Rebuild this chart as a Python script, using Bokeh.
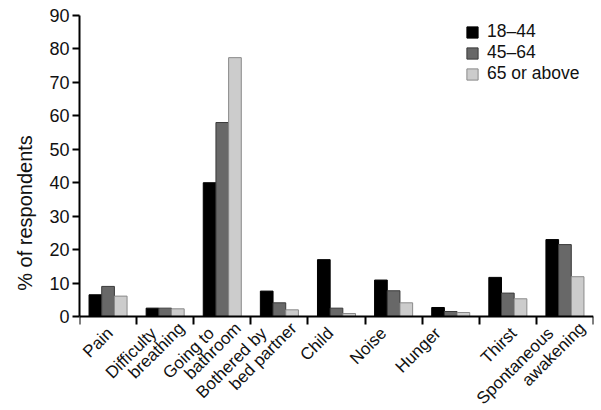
import math
from bokeh.plotting import figure
from bokeh.models import (ColumnDataSource, FixedTicker, Legend, LegendItem, Range1d, Title,
                          LinearAxis)
from bokeh.embed import file_html
from bokeh.resources import INLINE

categories = ["Pain", "Difficulty\nbreathing", "Going to\nbathroom", "Bothered by\nbed partner",
              "Child", "Noise", "Hunger", "Thirst", "Spontaneous\nawakening"]
groups = ["18\u201344", "45\u201364", "65 or above"]
age_18_44 = [6.5, 2.5, 40.0, 7.6, 17.0, 10.9, 2.7, 11.7, 23.0]
age_45_64 = [9.0, 2.5, 58.0, 4.1, 2.5, 7.7, 1.5, 7.0, 21.5]
age_65_up = [6.1, 2.3, 77.4, 2.0, 0.9, 4.1, 1.2, 5.3, 11.9]
y_ticks = [0, 10, 20, 30, 40, 50, 60, 70, 80, 90]

# horizontal nudges (screen px) of the rotated category label lines
label_dx1 = [2, -11.5, -11, -15.5, -6, -10, -13, 6, -14.5]
label_dx2 = [0, 16.5, 16, 14.5, 0, 0, 0, 0, 17.5]

colors = ["#000000", "#686868", "#cccccc"]
outlines = ["#000000", "#3a3a3a", "#8a8a8a"]
series = [age_18_44, age_45_64, age_65_up]

FONT = "Liberation Sans"
TXT = "#111111"
n = len(categories)
bar_w = 0.222
offsets = [-bar_w, 0.0, bar_w]
FRAME_W = 516.0
px = n / FRAME_W  # data units per screen pixel along x

y_low = -28.1
p = figure(width=601, height=410, output_backend="svg", toolbar_location=None,
           x_range=Range1d(0, n), y_range=Range1d(y_low, 90),
           min_border_left=77, min_border_right=8, min_border_top=15, min_border_bottom=0)
p.outline_line_color = None
p.xgrid.grid_line_color = None
p.ygrid.grid_line_color = None
p.background_fill_color = "white"
p.border_fill_color = "white"

renderers = []
for vals, off, c, oc in zip(series, offsets, colors, outlines):
    src = ColumnDataSource(dict(x=[i + 0.5 + off for i in range(n)], top=vals))
    r = p.vbar(x="x", top="top", bottom=0, width=bar_w, source=src,
               fill_color=c, line_color=oc, line_width=1)
    renderers.append(r)

legend = Legend(items=[LegendItem(label=g, renderers=[r]) for g, r in zip(groups, renderers)],
                location=(386, 326), border_line_color=None, background_fill_alpha=0,
                padding=0, margin=0, spacing=0, glyph_height=14, glyph_width=14,
                label_height=20, label_standoff=8,
                label_text_font=FONT, label_text_font_size="17.5px", label_text_color=TXT)
p.add_layout(legend, "center")

lines1 = [c.split("\n")[0] for c in categories]
lines2 = [c.split("\n")[1] if "\n" in c else "" for c in categories]
pos1 = [round(i + 0.5 + d * px, 4) for i, d in enumerate(label_dx1)]
pos2 = [round(i + 0.5 + d * px, 4) for i, (d, t) in enumerate(zip(label_dx2, lines2)) if t]
txt2 = [t for t in lines2 if t]


def style_labels(ax, standoff):
    ax.major_tick_line_color = None
    ax.major_tick_out = 0
    ax.major_tick_in = 0
    ax.major_label_orientation = math.pi / 4
    ax.major_label_standoff = standoff
    ax.major_label_text_font = FONT
    ax.major_label_text_font_size = "17px"
    ax.major_label_text_color = TXT


# main x axis at y = 0: line, boundary ticks (minor) and first label lines
xa = p.xaxis[0]
xa.fixed_location = 0
xa.ticker = FixedTicker(ticks=pos1, minor_ticks=list(range(n + 1)))
xa.major_label_overrides = {k: t for k, t in zip(pos1, lines1)}
xa.minor_tick_line_color = "black"
xa.minor_tick_line_width = 2
xa.minor_tick_out = 8
xa.minor_tick_in = 0
xa.axis_line_width = 2
xa.axis_line_color = "black"
style_labels(xa, 6)

# second label lines
xb = LinearAxis(fixed_location=0, ticker=FixedTicker(ticks=pos2, minor_ticks=[]),
                major_label_overrides={k: t for k, t in zip(pos2, txt2)},
                axis_line_color=None, minor_tick_line_color=None)
style_labels(xb, 9)
p.add_layout(xb, "below")

ya = p.yaxis[0]
ya.ticker = FixedTicker(ticks=y_ticks)
ya.bounds = (0, 90)
ya.minor_tick_line_color = None
ya.major_tick_out = 7
ya.major_tick_in = 0
ya.major_tick_line_width = 2
ya.axis_line_width = 2
ya.axis_line_color = "black"
ya.major_label_text_font = FONT
ya.major_label_text_font_size = "18px"
ya.major_label_text_color = TXT
ya.major_label_standoff = 3

ytitle = Title(text="% of respondents", align="center", offset=70, standoff=22,
               text_font=FONT, text_font_size="20px", text_font_style="normal",
               text_color=TXT)
p.add_layout(ytitle, "left")

open("out.html", "w").write(file_html(p, INLINE))
